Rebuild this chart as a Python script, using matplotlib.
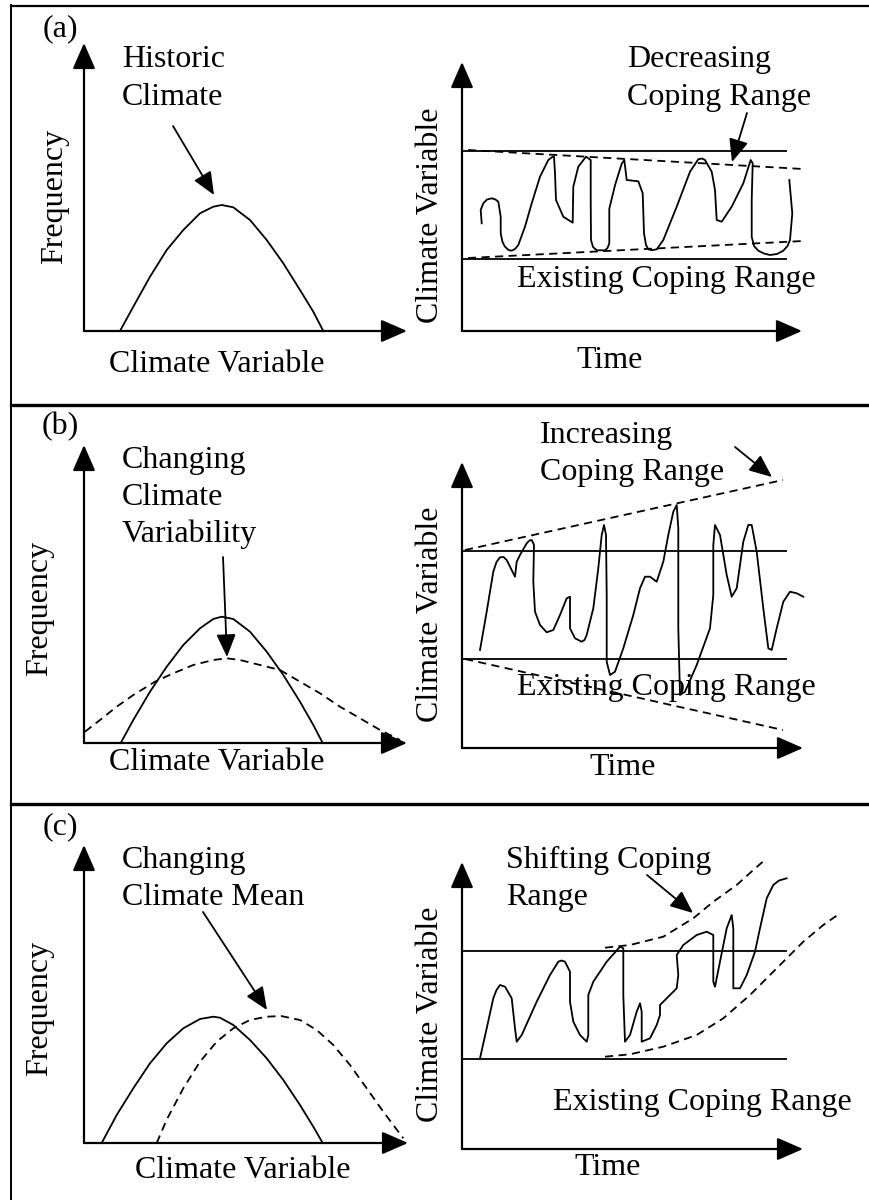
import matplotlib.pyplot as plt

# ---- data (local units: 1 unit = 1 px, origin at the axis corner) ----
# panel (a) left: historic climate distribution
a_freq_x = [36, 49.3, 66, 82.7, 99.3, 116, 129.3, 137.7, 149.3, 166, 182.7, 199.3, 216, 229.3, 239.3]
a_freq_y = [0, 24.3, 54.3, 81, 101, 117.7, 124.3, 126, 123.7, 111, 91, 67.7, 41, 19.3, 0]

# panel (a) right: climate variable over time
a_time = [19.7, 18.7, 21.3, 25, 29.7, 33.5, 36.3, 38.7, 38.7, 40.5, 43, 46.5, 49.7, 53, 56.3, 63, 69.7, 78,
          86.3, 90, 92, 93, 94, 101.3, 110.7, 111.3, 116.3, 124, 128.7, 128.7, 129, 131, 134.7, 143, 145.5,
          147.3, 147.3, 153, 159.7, 162.3, 164.7, 176.3, 180.7, 182, 184, 186.3, 190, 194.7, 201.3, 214.7,
          228, 236.3, 240, 243, 249.7, 253, 254.7, 259.7, 269.7, 281.3, 288.7, 290.7, 289.7, 289.7, 292,
          296.3, 302, 308, 315, 321.3, 325.5, 328, 330.3, 327.3]
a_clim = [107.7, 121, 127.7, 131.5, 132.7, 131.5, 129.3, 114.3, 97.7, 89, 84.3, 81, 80.3, 82, 86, 104.3,
          127.7, 154.3, 171, 173.8, 174.3, 157.7, 131, 114.3, 108.3, 144.3, 164.3, 174.3, 171, 131, 91, 84,
          80.7, 80.7, 83, 87.7, 122.3, 145.7, 167.3, 171, 151, 149.7, 137.7, 97.7, 86, 81.7, 80.8, 81.7,
          91, 124.3, 159.3, 171.7, 172.5, 171, 159.3, 141, 111, 109.3, 124.3, 147.7, 171, 167.7, 131,
          94.3, 85, 80.3, 77.5, 76, 77, 80.3, 85, 91, 117.7, 151]
a_range_existing = [72, 180]
a_range_x = [6, 341]
a_range_upper = [181, 162]
a_range_lower = [73, 90]

# panel (b) left: changing variability
b_freq_x = [36.7, 49.3, 66, 82.7, 99.3, 116, 129.3, 137.7, 149.3, 166, 182.7, 199.3, 216, 229.3, 238.7]
b_freq_y = [0, 23, 51.3, 76.3, 98, 114.7, 124, 126.3, 124, 111.3, 91.3, 68, 41.3, 18, 0]
b_new_x = [1, 16, 32.7, 49.3, 71, 89.3, 109.3, 129.3, 142.7, 156, 176, 196, 216, 236, 256, 276, 296, 316]
b_new_y = [11.3, 23, 36.3, 48, 61.3, 69.7, 78, 83, 84.7, 83, 78, 73, 61.3, 49.7, 36.3, 24.7, 13, 3]

# panel (b) right
b_time = [18, 24.7, 31.3, 34.5, 38, 41.5, 44.7, 53, 54.7, 58, 64.7, 67.5, 69.7, 72, 71.3, 73, 78, 84.7,
          91.3, 98, 104.7, 108, 108, 113, 119.7, 122.5, 124.7, 131.3, 136.3, 139.7, 142, 144, 144.7, 144.7,
          148, 153, 161.3, 171.3, 178, 183, 188, 194.7, 201.3, 206.3, 211.3, 214.7, 216.3, 216.3, 218, 223,
          234.7, 248, 251.3, 251.3, 253, 258, 264.7, 269.7, 274.7, 281.3, 286.3, 289.7, 294.7, 301.3, 306.3,
          309.7, 314.7, 321.3, 328, 334.7, 341.3]
b_clim = [98, 136.3, 176.3, 186, 190.7, 191, 188, 171.3, 186.3, 193, 204.7, 207.5, 208, 203, 166.3, 136.3,
          123, 115.7, 118, 133, 149.7, 151.3, 119.7, 109.7, 106.3, 108, 113, 139.7, 179.7, 213, 223, 213,
          153, 86.3, 73, 76.3, 99.7, 133, 159.7, 171.3, 171.3, 166.3, 186.3, 213, 236.3, 243, 219.7,
          119.7, 53, 56.3, 83, 119.7, 153, 203, 223, 213, 173, 151.3, 159.7, 206.3, 223, 223, 196.3, 139.7,
          99.7, 98, 119.7, 146.3, 156.3, 154.7, 151.3]
b_range_existing = [89, 197]
b_range_x = [3, 321]
b_range_upper = [198, 268]
b_range_lower = [89, 18]

# panel (c) left: changing mean
c_freq_x = [17.7, 32.7, 49.3, 66, 82.7, 99.3, 116, 129.3, 136, 149.3, 166, 182.7, 199.3, 216, 229.3, 238.7]
c_freq_y = [0, 28, 54.7, 79.7, 99.7, 114.7, 124, 126.3, 125.3, 118, 103, 84.7, 63, 38, 16.3, 0]
c_new_x = [72.7, 82.7, 99.3, 116, 132.7, 149.3, 166, 182.7, 197, 216, 232.7, 249.3, 266, 282.7, 299.3, 319.3]
c_new_y = [0, 23.3, 54.7, 81.3, 101.3, 114.7, 123, 126.3, 127, 123, 113, 98, 78, 54.7, 31.3, 4.7]

# panel (c) right
c_time = [18, 24.7, 31.3, 34.5, 38, 43, 49.7, 53, 54.7, 59.7, 74.7, 88, 96.3, 99.5, 103, 108, 108, 111.3,
          118, 124.7, 126.3, 126.3, 131.3, 144.7, 158, 161.3, 161.3, 163, 168, 174.7, 178, 179.7, 179.7,
          188, 194.7, 198, 198, 201.3, 214.7, 216.3, 214.7, 221.3, 234.7, 244.7, 251.3, 251.3, 253, 258,
          264.7, 269.7, 271.3, 271.3, 278, 284.7, 293, 298, 304.7, 311.3, 317, 324.7]
c_clim = [90.7, 120.7, 150.7, 159, 164, 162.3, 150.7, 120.7, 107.3, 114, 147.3, 174, 187.3, 188.5, 187.3,
          177.3, 147.3, 127.3, 114, 107.3, 114, 154, 167.3, 187.3, 202.3, 200.7, 154, 107.3, 114, 137.3,
          145.7, 137.3, 107.3, 110.7, 124, 134, 144, 147.3, 160.7, 174, 194, 204, 214, 217.3, 214, 167.3,
          162.3, 187.3, 220.7, 234, 220.7, 160.7, 160.7, 174, 197.3, 220.7, 250.7, 264, 268.5, 270.7]
c_range_existing = [90, 198]
c_up_x = [143, 168, 201.3, 231.3, 251.3, 274.7, 291.3, 304.7]
c_up_y = [201.3, 204, 212.3, 230.7, 247.3, 264, 279, 290.7]
c_low_x = [143, 168, 201.3, 234.7, 261.3, 288, 314.7, 341.3, 361.3, 378]
c_low_y = [92.3, 94.7, 102.3, 114, 130.7, 154, 180.7, 207.3, 224, 235.7]

# ---- figure ----
W, H = 869, 1200
plt.rcParams['font.family'] = ['Liberation Serif', 'DejaVu Serif']
fig = plt.figure(figsize=(W / 100, H / 100), dpi=100)
FS = 23

AX_ARROW = dict(arrowstyle='-|>,head_length=0.8,head_width=0.35', mutation_scale=20,
                lw=1.6, color='k', shrinkA=0, shrinkB=0)
NOTE_ARROW = dict(arrowstyle='-|>,head_length=0.7,head_width=0.3', mutation_scale=20,
                  lw=1.3, color='k', shrinkA=0, shrinkB=0)
DASH = (0, (4.5, 3))


def sub_axes(ox, oy, xtip, ytip, w=400, h=320):
    # axes whose data units are pixels, origin at pixel (ox, oy)
    ax = fig.add_axes([ox / W, 1 - oy / H, w / W, h / H])
    ax.set_xlim(0, w)
    ax.set_ylim(0, h)
    ax.axis('off')
    ax.annotate('', xy=(xtip, 0), xytext=(0, 0), arrowprops=AX_ARROW, annotation_clip=False)
    ax.annotate('', xy=(0, ytip), xytext=(0, 0), arrowprops=AX_ARROW, annotation_clip=False)
    return ax


def ftext(x, y, s, **kw):
    kw.setdefault('va', 'baseline')
    fig.text(x / W, 1 - y / H, s, fontsize=FS, **kw)


def farrow(x0, y0, x1, y1):
    fig.add_artist(plt.Annotation('', xy=(x1 / W, 1 - y1 / H), xytext=(x0 / W, 1 - y0 / H),
                                  xycoords='figure fraction', textcoords='figure fraction',
                                  arrowprops=NOTE_ARROW))


def fline(x0, y0, x1, y1, lw):
    fig.add_artist(plt.Line2D([x0 / W, x1 / W], [1 - y0 / H, 1 - y1 / H], lw=lw, color='k'))


# frame and separators
fline(11, 6, 869, 6, 1.6)
fline(11, 5, 11, 1200, 1.4)
fline(11, 405, 869, 405, 2.4)
fline(11, 804, 869, 804, 2.4)

CURVE = dict(color='k', lw=1.3, clip_on=False, solid_joinstyle='round')

# ---- panel (a) ----
ax = sub_axes(84, 331, 323, 288)
ax.plot(a_freq_x, a_freq_y, **CURVE)
ax = sub_axes(462, 331, 340, 269)
ax.hlines(a_range_existing, 0, 325, color='k', lw=1.3)
ax.plot(a_range_x, a_range_upper, ls=DASH, **CURVE)
ax.plot(a_range_x, a_range_lower, ls=DASH, **CURVE)
ax.plot(a_time, a_clim, **CURVE)

ftext(60, 36, '(a)', ha='center')
ftext(122, 67, 'Historic')
ftext(122, 105, 'Climate')
farrow(173, 126, 214, 195)
ftext(55, 196, 'Frequency', rotation=90, ha='center', va='center')
ftext(217, 372, 'Climate Variable', ha='center')
ftext(627, 67, 'Decreasing')
ftext(627, 105, 'Coping Range')
farrow(747, 113, 732, 162)
ftext(430, 215, 'Climate Variable', rotation=90, ha='center', va='center')
ftext(517, 287, 'Existing Coping Range')
ftext(610, 368, 'Time', ha='center')

# ---- panel (b) ----
ax = sub_axes(84, 743, 323, 298)
ax.plot(b_freq_x, b_freq_y, **CURVE)
ax.plot(b_new_x, b_new_y, ls=DASH, **CURVE)
ax = sub_axes(462, 748, 341, 286)
ax.hlines(b_range_existing, 0, 325, color='k', lw=1.3)
ax.plot(b_range_x, b_range_upper, ls=DASH, **CURVE)
ax.plot(b_range_x, b_range_lower, ls=DASH, **CURVE)
ax.plot(b_time, b_clim, **CURVE)

ftext(60, 434, '(b)', ha='center')
ftext(122, 468, 'Changing')
ftext(122, 505, 'Climate')
ftext(122, 542, 'Variability')
farrow(223, 557, 227, 657)
ftext(40, 608, 'Frequency', rotation=90, ha='center', va='center')
ftext(217, 770, 'Climate Variable', ha='center')
ftext(540, 443, 'Increasing')
ftext(540, 480, 'Coping Range')
farrow(735, 447, 772, 477)
ftext(430, 614, 'Climate Variable', rotation=90, ha='center', va='center')
ftext(517, 695, 'Existing Coping Range')
ftext(623, 775, 'Time', ha='center')

# ---- panel (c) ----
ax = sub_axes(84, 1143, 324, 298)
ax.plot(c_freq_x, c_freq_y, **CURVE)
ax.plot(c_new_x, c_new_y, ls=DASH, **CURVE)
ax = sub_axes(462, 1149, 341, 287)
ax.hlines(c_range_existing, 0, 325, color='k', lw=1.3)
ax.plot(c_up_x, c_up_y, ls=DASH, **CURVE)
ax.plot(c_low_x, c_low_y, ls=DASH, **CURVE)
ax.plot(c_time, c_clim, **CURVE)

ftext(60, 834, '(c)', ha='center')
ftext(122, 868, 'Changing')
ftext(122, 905, 'Climate Mean')
farrow(203, 912, 267, 1010)
ftext(40, 1008, 'Frequency', rotation=90, ha='center', va='center')
ftext(243, 1178, 'Climate Variable', ha='center')
ftext(506, 868, 'Shifting Coping')
ftext(506, 905, 'Range')
farrow(647, 875, 693, 913)
ftext(430, 1014, 'Climate Variable', rotation=90, ha='center', va='center')
ftext(553, 1110, 'Existing Coping Range')
ftext(608, 1175, 'Time', ha='center')

fig.savefig('out.png', dpi=100)
